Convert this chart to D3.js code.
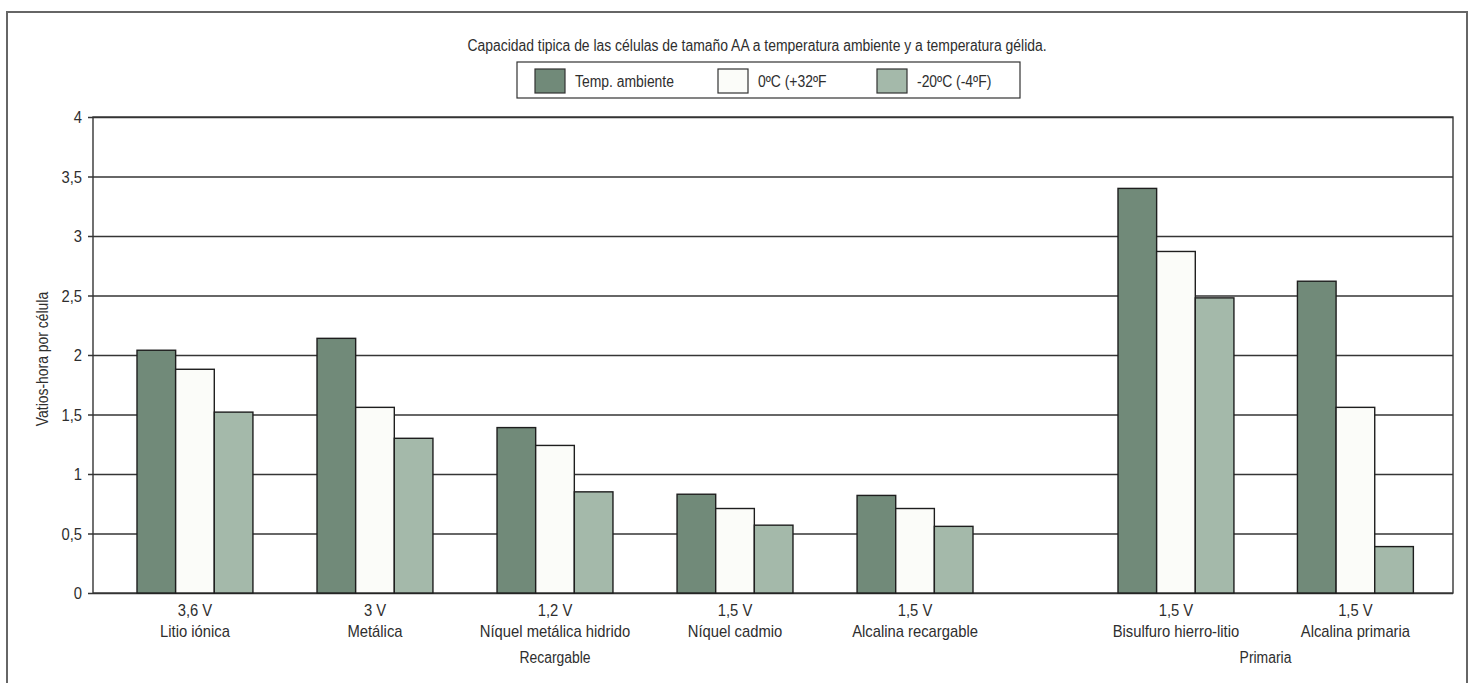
<!DOCTYPE html>
<html>
<head>
<meta charset="utf-8">
<script src="https://cdn.jsdelivr.net/npm/d3@7"></script>
<style>
  body { margin: 0; background: #fff; }
  text { font-family: "Liberation Sans", Arial, sans-serif; fill: #2e2e2e; }
</style>
</head>
<body>
<div id="chart"></div>
<script>

// --------------------------------------------------------
// data
var categories  = [ "Litio iónica", "Metálica", "Níquel metálica hidrido", "Níquel cadmio",
                    "Alcalina recargable", "Bisulfuro hierro-litio", "Alcalina primaria" ];
var voltages    = [ "3,6 V", "3 V", "1,2 V", "1,5 V", "1,5 V", "1,5 V", "1,5 V" ];
var kinds       = [ "Recargable", "Recargable", "Recargable", "Recargable", "Recargable", "Primaria", "Primaria" ];

var ambiente    = [ 2.04, 2.14, 1.39, 0.83, 0.82, 3.40, 2.62 ];
var cero        = [ 1.88, 1.56, 1.24, 0.71, 0.71, 2.87, 1.56 ];
var bajoCero    = [ 1.52, 1.30, 0.85, 0.57, 0.56, 2.48, 0.39 ];

var seriesNames = [ "Temp. ambiente", "0ºC (+32ºF", "-20ºC (-4ºF)" ];
var yTicks      = [ 0, 0.5, 1, 1.5, 2, 2.5, 3, 3.5, 4 ];
var title       = "Capacidad tipica de las células de tamaño AA a temperatura ambiente y a temperatura gélida.";
var yLabel      = "Vatios-hora por célula";

// --------------------------------------------------------
var chart_width  = 1473;
var chart_height = 683;
var plot = { left: 93, right: 1453, top: 117, bottom: 593 };
var colors = [ "#718a79", "#fbfcf9", "#a4b9aa" ];
var narrow = 0.87;	// squeeze text, the original uses a condensed face

var svg = d3.select("#chart")
	.append("svg")
	.attr("width", chart_width)
	.attr("height", chart_height);

// text helper: condensed text at (x, y)
function label(parent, x, y, str, size, anchor) {
	return parent.append("g")
		.attr("transform", "translate(" + x + "," + y + ") scale(" + narrow + ",1)")
		.append("text")
		.attr("text-anchor", anchor || "middle")
		.attr("font-size", size)
		.text(str);
}

// page frame (open at the bottom)
svg.append("path")
	.attr("d", "M7,690 V12 H1467 V690")
	.attr("fill", "none")
	.attr("stroke", "#666")
	.attr("stroke-width", 2);

// --------------------------------------------------------
// scales
var y = d3.scaleLinear()
	.domain([0, 4])
	.range([plot.bottom, plot.top]);

// one band scale per battery kind, the gap between them is wider
var groups = [ "Recargable", "Primaria" ];
var groupRange = { "Recargable": [137, 973], "Primaria": [1118, 1413] };
var x0 = {};
groups.forEach((g) => {
	x0[g] = d3.scaleBand()
		.domain(categories.filter((c, i) => kinds[i] === g))
		.range(groupRange[g])
		.paddingInner(0.356)
		.paddingOuter(0);
});
var xOf = (i) => x0[kinds[i]](categories[i]);
var bw  = x0["Recargable"].bandwidth();

var x1 = d3.scaleBand()
	.domain(d3.range(seriesNames.length))
	.range([0, bw]);

// --------------------------------------------------------
// y axis with gridlines
var yAxis = d3.axisLeft(y)
	.tickValues(yTicks)
	.tickSize(-(plot.right - plot.left + 5))
	.tickFormat("");

var gy = svg.append("g")
	.attr("transform", "translate(" + (plot.left - 5) + ",0)")
	.call(yAxis);
gy.select(".domain").remove();
gy.selectAll(".tick line").attr("stroke", "#353535").attr("stroke-width", 1.4);

yTicks.forEach((t) => {
	label(svg, 82, y(t) + 6, String(t).replace(".", ","), 17, "end")
		.attr("fill", "#555");
});

// plot frame
svg.append("rect")
	.attr("x", plot.left).attr("y", plot.top)
	.attr("width", plot.right - plot.left)
	.attr("height", plot.bottom - plot.top)
	.attr("fill", "none")
	.attr("stroke", "#353535")
	.attr("stroke-width", 1.4);

svg.append("g")
	.attr("transform", "translate(48," + ((plot.top + plot.bottom) / 2 + 4) + ") rotate(-90) scale(" + narrow + ",1)")
	.append("text")
	.attr("text-anchor", "middle")
	.attr("font-size", 16)
	.text(yLabel);

// --------------------------------------------------------
// bars
var series = [ ambiente, cero, bajoCero ];
series.forEach((vals, s) => {
	svg.append("g")
		.selectAll("rect")
		.data(vals)
		.enter()
		.append("rect")
		.attr("x", (d, i) => xOf(i) + x1(s))
		.attr("y", (d) => y(d))
		.attr("width", x1.bandwidth())
		.attr("height", (d) => y(0) - y(d))
		.attr("fill", colors[s])
		.attr("stroke", "#1e1e1e")
		.attr("stroke-width", 1.4);
});

// --------------------------------------------------------
// x labels
categories.forEach((c, i) => {
	var cx = xOf(i) + bw / 2;
	label(svg, cx, 616, voltages[i], 17);
	label(svg, cx, 637, c, 17);
});

groups.forEach((g) => {
	label(svg, (groupRange[g][0] + groupRange[g][1]) / 2, 663, g, 16);
});

// --------------------------------------------------------
// title and legend
label(svg, 757, 51, title, 16);

var legend = svg.append("g");
legend.append("rect")
	.attr("x", 517).attr("y", 62)
	.attr("width", 503).attr("height", 36)
	.attr("fill", "#fff")
	.attr("stroke", "#333")
	.attr("stroke-width", 1.2);

var legendX = [ 535, 718, 877 ];
seriesNames.forEach((name, i) => {
	legend.append("rect")
		.attr("x", legendX[i]).attr("y", 69)
		.attr("width", 30).attr("height", 24)
		.attr("fill", colors[i])
		.attr("stroke", "#333")
		.attr("stroke-width", 1.2);
	label(legend, legendX[i] + 40, 87, name, 16, "start");
});

</script>
</body>
</html>
